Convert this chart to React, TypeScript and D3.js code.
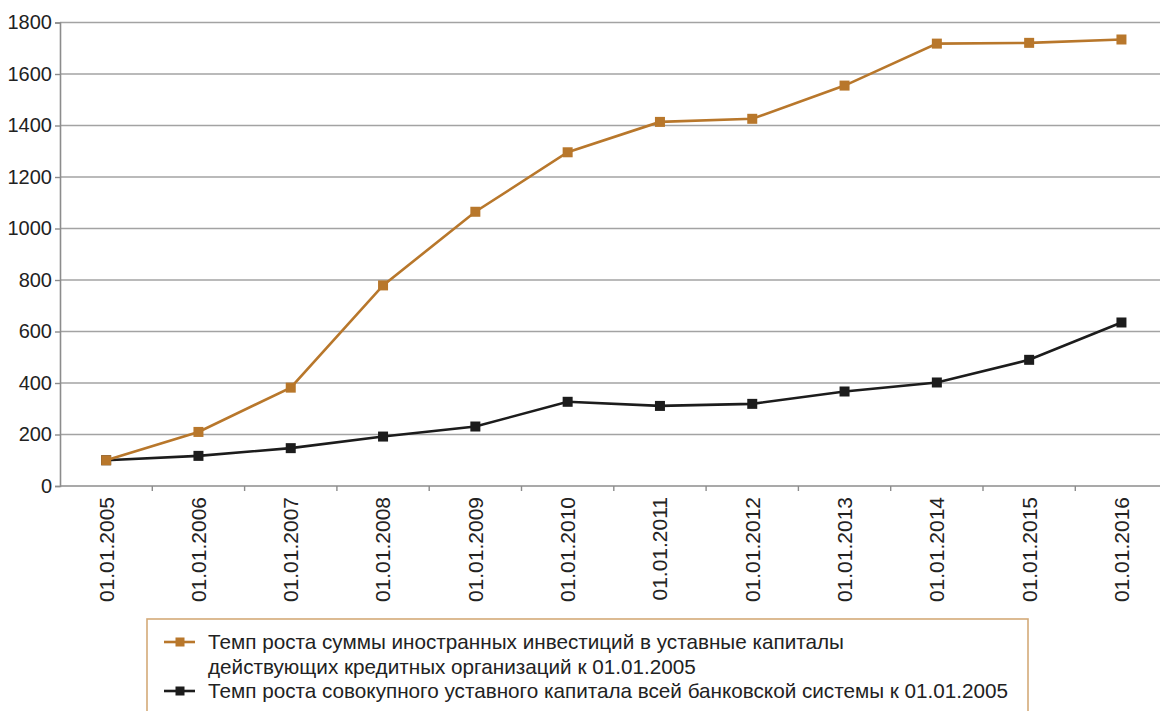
import React, { useRef, useEffect } from "react";
import * as d3 from "d3";

const dates = [
  "01.01.2005", "01.01.2006", "01.01.2007", "01.01.2008", "01.01.2009", "01.01.2010",
  "01.01.2011", "01.01.2012", "01.01.2013", "01.01.2014", "01.01.2015", "01.01.2016",
];
const foreignInvest = [100, 210, 382, 779, 1065, 1296, 1414, 1426, 1555, 1718, 1721, 1734];
const totalCapital = [100, 117, 147, 192, 231, 327, 311, 319, 367, 402, 490, 635];
const yTicks = [0, 200, 400, 600, 800, 1000, 1200, 1400, 1600, 1800];
const legendLabels = [
  ["Темп роста суммы иностранных инвестиций в уставные капиталы", "действующих кредитных организаций к 01.01.2005"],
  ["Темп роста совокупного уставного капитала всей банковской системы к 01.01.2005"],
];

function App() {
  const svgRef = useRef(null);

  useEffect(() => {
    const w = 1160;
    const h = 711;
    const left = 60;
    const top = 22.5;
    const bottom = 486;
    const font = "'Liberation Sans', Arial, Helvetica, sans-serif";
    const orange = "#b8772b";
    const black = "#1c1c1c";

    const svg = d3.select(svgRef.current).attr("width", w).attr("height", h);
    svg.selectAll("*").remove();

    const x = d3.scaleBand().domain(dates).range([left, left + 12 * 92.3]).padding(0);
    const y = d3.scaleLinear().domain([0, 1800]).range([bottom, top]);
    const cx = (d) => x(d) + x.bandwidth() / 2;

    // gridlines
    svg
      .append("g")
      .selectAll("line")
      .data(yTicks.filter((t) => t > 0))
      .join("line")
      .attr("x1", left)
      .attr("x2", w)
      .attr("y1", (d) => y(d))
      .attr("y2", (d) => y(d))
      .attr("stroke", "#a3a3a3")
      .attr("stroke-width", 1.6);

    // y axis
    const yAxis = d3
      .axisLeft(y)
      .tickValues(yTicks)
      .tickSize(5)
      .tickPadding(3)
      .tickFormat(d3.format("d"));
    const gy = svg.append("g").attr("transform", `translate(${left},0)`).call(yAxis);
    gy.select(".domain").attr("stroke", "#8c8c8c").attr("stroke-width", 1.6);
    gy.selectAll(".tick line").attr("stroke", "#8c8c8c").attr("stroke-width", 1.4);
    gy.selectAll(".tick text")
      .attr("font-family", font)
      .attr("font-size", 20)
      .attr("fill", "#222");

    // x axis: ticks between categories
    svg
      .append("line")
      .attr("x1", left)
      .attr("x2", w)
      .attr("y1", bottom)
      .attr("y2", bottom)
      .attr("stroke", "#8c8c8c")
      .attr("stroke-width", 1.6);
    svg
      .append("g")
      .selectAll("line")
      .data(dates.slice(1))
      .join("line")
      .attr("x1", (d) => x(d))
      .attr("x2", (d) => x(d))
      .attr("y1", bottom)
      .attr("y2", bottom + 5)
      .attr("stroke", "#8c8c8c")
      .attr("stroke-width", 1.4);
    svg
      .append("g")
      .selectAll("text")
      .data(dates)
      .join("text")
      .attr("transform", (d) => `translate(${cx(d)},${bottom + 11}) rotate(-90)`)
      .attr("text-anchor", "end")
      .attr("dy", "0.35em")
      .attr("font-family", font)
      .attr("font-size", 21)
      .attr("fill", "#222")
      .text((d) => d);

    const line = d3
      .line()
      .x((d, i) => cx(dates[i]))
      .y((d) => y(d));

    const drawSeries = (data, color) => {
      svg
        .append("path")
        .datum(data)
        .attr("fill", "none")
        .attr("stroke", color)
        .attr("stroke-width", 2.6)
        .attr("d", line);
      svg
        .append("g")
        .selectAll("rect")
        .data(data)
        .join("rect")
        .attr("x", (d, i) => cx(dates[i]) - 5)
        .attr("y", (d) => y(d) - 5)
        .attr("width", 10)
        .attr("height", 10)
        .attr("fill", color);
    };
    drawSeries(totalCapital, black);
    drawSeries(foreignInvest, orange);

    // legend
    const lg = svg.append("g");
    lg.append("rect")
      .attr("x", 147)
      .attr("y", 619)
      .attr("width", 881)
      .attr("height", 140)
      .attr("fill", "none")
      .attr("stroke", "#d4aa78")
      .attr("stroke-width", 1.6);
    const rows = [
      { color: orange, labels: legendLabels[0], cy: 642 },
      { color: black, labels: legendLabels[1], cy: 691 },
    ];
    rows.forEach((r) => {
      lg.append("line")
        .attr("x1", 164)
        .attr("x2", 195)
        .attr("y1", r.cy)
        .attr("y2", r.cy)
        .attr("stroke", r.color)
        .attr("stroke-width", 2.6);
      lg.append("rect")
        .attr("x", 175.5)
        .attr("y", r.cy - 4.5)
        .attr("width", 9)
        .attr("height", 9)
        .attr("fill", r.color);
      r.labels.forEach((t, i) => {
        lg.append("text")
          .attr("x", 208)
          .attr("y", r.cy + 7 + i * 25)
          .attr("font-family", font)
          .attr("font-size", 20.7)
          .attr("fill", "#222")
          .text(t);
      });
    });
  }, []);

  return (
    <div>
      <svg ref={svgRef} style={{ position: "absolute", left: 0, top: 0, background: "#fff" }}></svg>
    </div>
  );
}

export default App;
